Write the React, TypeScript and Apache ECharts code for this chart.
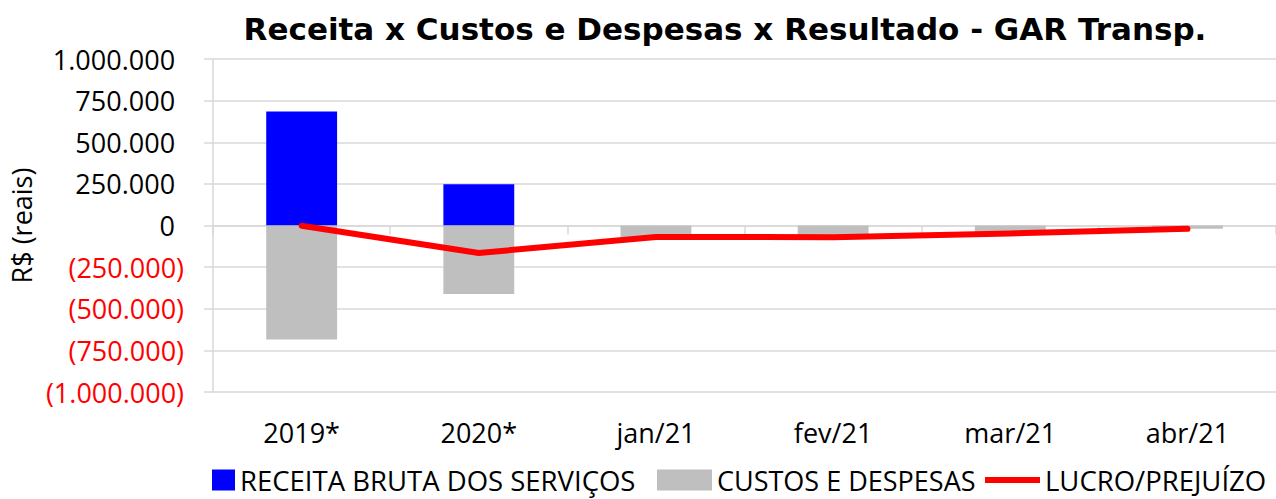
import React, { useEffect, useRef } from "react";
import * as echarts from "echarts";

const categories = ["2019*", "2020*", "jan/21", "fev/21", "mar/21", "abr/21"];
const receita = [684000, 247000, 0, 0, 0, 0];
const custos = [-684000, -412000, -69000, -70000, -48000, -20000];
const lucro = [-1000, -165000, -69000, -70000, -48000, -20000];
const yMin = -1000000;
const yMax = 1000000;
const yStep = 250000;

const FONT = "'Open Sans', sans-serif";

function fmt(v: number): string {
  const s = Math.abs(Math.round(v)).toString();
  return s.replace(/\B(?=(\d{3})+(?!\d))/g, ".");
}

export default function App() {
  const ref = useRef<HTMLDivElement>(null);
  useEffect(() => {
    document.body.style.margin = "0";
    if (!ref.current) return;
    const chart = echarts.init(ref.current, undefined, { renderer: "svg" });
    const grid = "#d9d9d9";
    const legendText = (size: number) => ({
      fontFamily: FONT,
      fontSize: size,
      lineHeight: 28,
      color: "#000",
    });
    chart.setOption({
      animation: false,
      backgroundColor: "#ffffff",
      title: {
        text: "Receita x Custos e Despesas x Resultado - GAR Transp.",
        left: 720,
        textAlign: "center",
        top: 8,
        textStyle: {
          fontFamily: "'DejaVu Sans', sans-serif",
          fontWeight: "bold",
          fontSize: 31,
          color: "#000",
        },
      },
      legend: [
        {
          data: [{ name: "RECEITA BRUTA DOS SERVIÇOS", icon: "rect" }],
          left: 212,
          top: 466,
          padding: 0,
          itemWidth: 23,
          itemHeight: 21,
          textStyle: legendText(27.5),
        },
        {
          data: [{ name: "CUSTOS E DESPESAS", icon: "rect" }],
          left: 657,
          top: 466,
          padding: 0,
          itemWidth: 55,
          itemHeight: 21,
          textStyle: legendText(27),
        },
        {
          data: [{ name: "LUCRO/PREJUÍZO", icon: "rect" }],
          left: 985,
          top: 466,
          padding: 0,
          itemWidth: 55,
          itemHeight: 6,
          textStyle: legendText(27.5),
        },
      ],
      grid: { left: 212, right: -3, top: 59, bottom: 107 },
      xAxis: [
        {
          type: "category",
          data: categories,
          position: "bottom",
          axisLine: { show: false, onZero: false },
          axisTick: { show: false },
          axisLabel: {
            fontFamily: FONT,
            fontSize: 27,
            color: "#000",
            margin: 27,
          },
        },
        {
          type: "category",
          data: categories,
          position: "bottom",
          axisLine: { show: true, onZero: true, lineStyle: { color: grid, width: 1.5 } },
          axisTick: { show: true, length: 9, lineStyle: { color: grid, width: 1.5 } },
          axisLabel: { show: false },
        },
      ],
      yAxis: {
        type: "value",
        min: yMin,
        max: yMax,
        interval: yStep,
        name: "R$ (reais)",
        nameLocation: "middle",
        nameGap: 172,
        nameTextStyle: { fontFamily: FONT, fontSize: 27, color: "#000" },
        axisLine: { show: true, lineStyle: { color: grid, width: 1.5 } },
        axisTick: { show: true, length: 9, lineStyle: { color: grid, width: 1.5 } },
        splitLine: { show: true, lineStyle: { color: grid, width: 1.5 } },
        axisLabel: {
          margin: 29,
          formatter: (v: number) =>
            v < 0 ? `{neg|(${fmt(v)})}` : `{pos|${fmt(v)}}`,
          rich: {
            pos: { fontFamily: FONT, fontSize: 27, color: "#000", padding: [0, 9, 0, 0] },
            neg: { fontFamily: FONT, fontSize: 27, color: "#ff0000" },
          },
        },
      },
      series: [
        {
          name: "RECEITA BRUTA DOS SERVIÇOS",
          type: "bar",
          stack: "a",
          xAxisIndex: 0,
          barWidth: "40%",
          data: receita,
          itemStyle: { color: "#0000ff" },
        },
        {
          name: "CUSTOS E DESPESAS",
          type: "bar",
          stack: "a",
          xAxisIndex: 0,
          barWidth: "40%",
          data: custos,
          itemStyle: { color: "#bfbfbf" },
        },
        {
          name: "LUCRO/PREJUÍZO",
          type: "line",
          xAxisIndex: 0,
          data: lucro,
          symbol: "none",
          z: 5,
          lineStyle: { color: "#ff0000", width: 6, cap: "round", join: "round" },
          itemStyle: { color: "#ff0000" },
        },
      ],
    });
    return () => chart.dispose();
  }, []);
  return <div ref={ref} style={{ width: 1276, height: 499 }} />;
}
